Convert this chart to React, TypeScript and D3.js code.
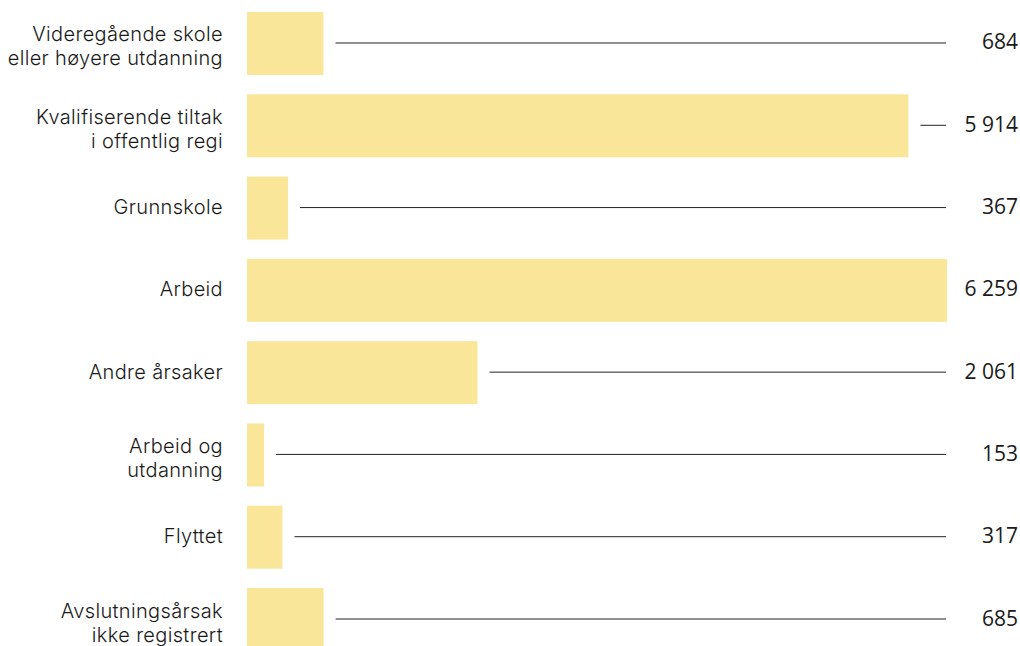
import { useRef, useEffect } from "react";
import * as d3 from "d3";

// Avslutningsårsak – antall deltakere
const categories = [
  ["Videregående skole", "eller høyere utdanning"],
  ["Kvalifiserende tiltak", "i offentlig regi"],
  ["Grunnskole"],
  ["Arbeid"],
  ["Andre årsaker"],
  ["Arbeid og", "utdanning"],
  ["Flyttet"],
  ["Avslutningsårsak", "ikke registrert"],
];
const values = [684, 5914, 367, 6259, 2061, 153, 317, 685];

const width = 1020;
const height = 646;
const margin = { top: 12, left: 247, right: 73 };

const App = () => {
  const svgRef = useRef<SVGSVGElement | null>(null);

  useEffect(() => {
    if (!svgRef.current) return;
    const svg = d3.select(svgRef.current);
    svg.selectAll("*").remove();

    const keys = categories.map((_, i) => i.toString());
    const y = d3.scaleBand()
      .domain(keys)
      .range([margin.top, margin.top + 639])
      .paddingInner(0.2345)
      .paddingOuter(0);

    const x = d3.scaleLinear()
      .domain([0, d3.max(values) || 1])
      .range([margin.left, 947]);

    const lineEnd = 946;
    const valueX = 1018;

    const rows = svg.selectAll(".row")
      .data(values)
      .enter()
      .append("g")
      .attr("class", "row")
      .attr("transform", (_, i) => `translate(0,${(y(i.toString()) || 0) + y.bandwidth() / 2})`);

    // bars
    rows.append("rect")
      .attr("x", x(0))
      .attr("y", -y.bandwidth() / 2)
      .attr("width", d => x(d) - x(0))
      .attr("height", y.bandwidth())
      .attr("fill", "#f9e699");

    // leader lines
    rows.filter(d => x(d) + 12 < lineEnd)
      .append("line")
      .attr("x1", d => x(d) + 12)
      .attr("x2", lineEnd)
      .attr("y1", -0.5)
      .attr("y2", -0.5)
      .attr("stroke", "#222")
      .attr("stroke-width", 1);

    // value labels
    rows.append("text")
      .attr("x", valueX)
      .attr("y", 6)
      .attr("text-anchor", "end")
      .attr("font-family", "'Open Sans', sans-serif")
      .attr("font-size", "21px")
      .attr("fill", "#1a1a1a")
      .text(d => d3.format(",")(d).replace(/,/g, " "));

    // category labels
    rows.append("text")
      .attr("text-anchor", "end")
      .attr("font-family", "Inter, sans-serif")
      .attr("font-size", "20px")
      .attr("font-weight", 300)
      .attr("letter-spacing", "0.35px")
      .attr("fill", "#1a1a1a")
      .each(function (_, i) {
        const lines = categories[i];
        const t = d3.select(this);
        lines.forEach((ln, j) => {
          t.append("tspan")
            .attr("x", 223)
            .attr("y", lines.length === 1 ? 6 : -2 + j * 24)
            .text(ln);
        });
      });
  }, []);

  return (
    <div style={{ position: "absolute", left: 0, top: 0 }}>
      <svg ref={svgRef} width={width} height={height} style={{ display: "block", background: "#fff" }} />
    </div>
  );
};

export default App;
